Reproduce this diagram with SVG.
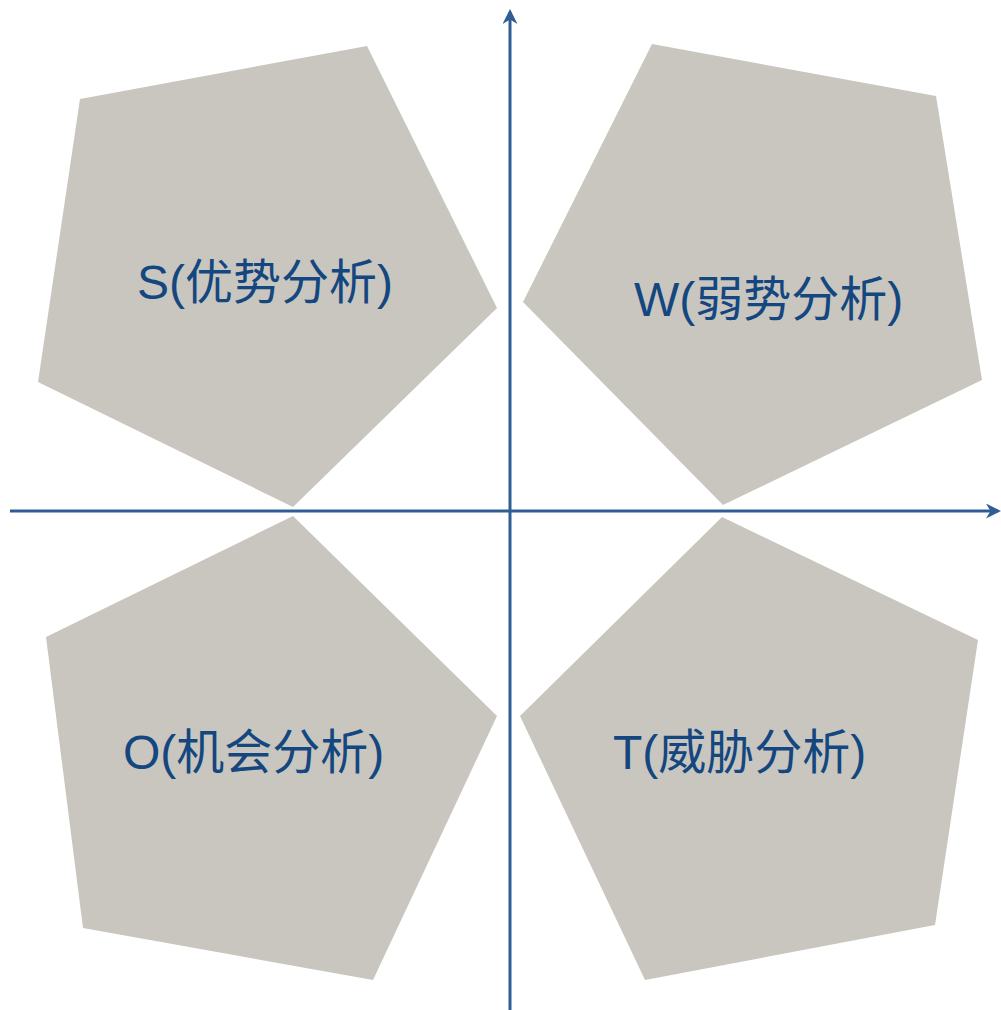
<svg xmlns="http://www.w3.org/2000/svg" width="1001" height="1010" viewBox="0 0 1001 1010">
<style>
.pent{fill:#c8c6be;}
.lbl{font-family:"Liberation Sans","Noto Sans CJK SC",sans-serif;font-size:48px;fill:#144680;}
.axis{stroke:#2e5e94;stroke-width:3;fill:none;}
</style>
<defs>
<marker id="arr" viewBox="0 0 10 10" refX="8" refY="5" markerWidth="5" markerHeight="5" markerUnits="strokeWidth" orient="auto">
<path d="M0,0 L10,5 L0,10 L3,5 Z" fill="#2e5e94"/>
</marker>
</defs>
<rect width="1001" height="1010" fill="#ffffff"/>
<g id="node-S">
<polygon class="pent" points="80,99 367,46 497,308 293,507 38,382"/>
<text class="lbl" x="137" y="299">S(优势分析)</text>
</g>
<g id="node-W">
<polygon class="pent" points="652,44 936,96 982,380 723,505 523,302"/>
<text class="lbl" x="634" y="316">W(弱势分析)</text>
</g>
<g id="node-O">
<polygon class="pent" points="46,637 293,516 497,716 373,980 83,928"/>
<text class="lbl" x="123" y="769">O(机会分析)</text>
</g>
<g id="node-T">
<polygon class="pent" points="520,716 722,517 978,640 935,925 645,980"/>
<text class="lbl" x="613" y="769">T(威胁分析)</text>
</g>
<g id="connectors">
<line class="axis" x1="510" y1="1010" x2="510" y2="12" marker-end="url(#arr)"/>
<line class="axis" x1="10" y1="511" x2="998" y2="511" marker-end="url(#arr)"/>
</g>
</svg>
